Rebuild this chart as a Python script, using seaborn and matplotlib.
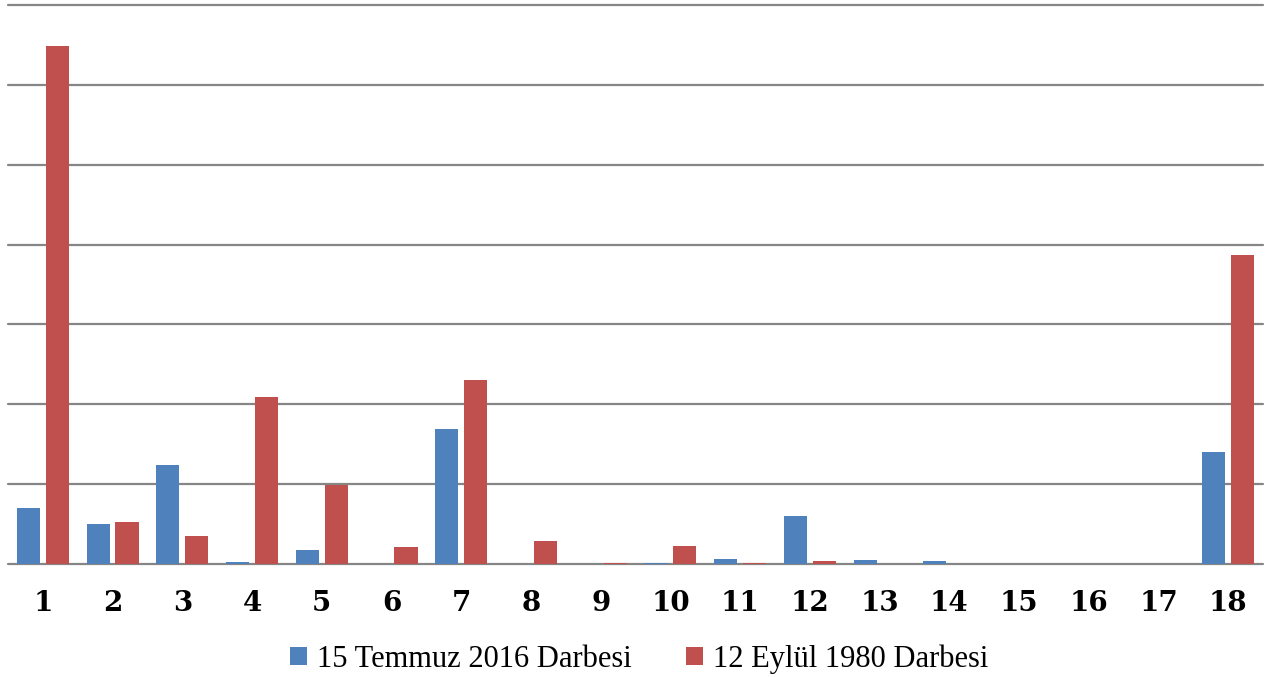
import pandas as pd
import matplotlib.pyplot as plt
import seaborn as sns

# Values (one gridline = 10 units, no axis labels shown)
categories = [str(i) for i in range(1, 19)]
series_names = ['15 Temmuz 2016 Darbesi', '12 Eylül 1980 Darbesi']
temmuz_2016 = [7.0, 5.0, 12.4, 0.25, 1.75, 0.0, 16.9, 0.0, 0.0, 0.1,
               0.6, 6.0, 0.5, 0.4, 0.0, 0.0, 0.0, 14.0]
eylul_1980 = [64.9, 5.25, 3.5, 20.9, 9.9, 2.1, 23.0, 2.9, 0.1, 2.3,
              0.15, 0.35, 0.0, 0.0, 0.0, 0.0, 0.0, 38.75]
colors = ['#4F81BD', '#C0504D']

df = pd.DataFrame({
    'kategori': categories * 2,
    'deger': temmuz_2016 + eylul_1980,
    'seri': [series_names[0]] * len(categories) + [series_names[1]] * len(categories),
})

sns.set_style('white')
fig = plt.figure(figsize=(12.66, 6.77), dpi=100)
ax = fig.add_axes([0.0063, 0.1669, 0.9914, 0.8257])

sns.barplot(data=df, x='kategori', y='deger', hue='seri', palette=colors,
            width=0.83, gap=0.2, saturation=1, linewidth=0, ax=ax)

ax.set_ylim(0, 70)
ax.set_xlim(-0.5, 17.5)
ax.set_yticks(range(0, 71, 10))
ax.yaxis.grid(True, color='#868686', linewidth=1.6)
for gl in ax.yaxis.get_gridlines():
    gl.set_clip_on(False)
ax.set_axisbelow(True)
ax.tick_params(axis='y', left=False, labelleft=False)
ax.tick_params(axis='x', bottom=False, pad=15)
for lbl in ax.get_xticklabels():
    lbl.set_fontfamily('DejaVu Serif')
    lbl.set_fontweight('bold')
    lbl.set_fontsize(20)
    lbl.set_color('black')
ax.set_xlabel('')
ax.set_ylabel('')
for s in ax.spines.values():
    s.set_visible(False)

handles, labels = ax.get_legend_handles_labels()
leg = ax.legend(handles, labels, loc='center', bbox_to_anchor=(0.503, -0.17),
                ncol=2, frameon=False, handlelength=0.55, handleheight=0.55,
                handletextpad=0.35, columnspacing=1.75,
                prop={'family': 'Liberation Serif', 'size': 22})
for t in leg.get_texts():
    t.set_color('black')

plt.savefig('out.png', dpi=100)
